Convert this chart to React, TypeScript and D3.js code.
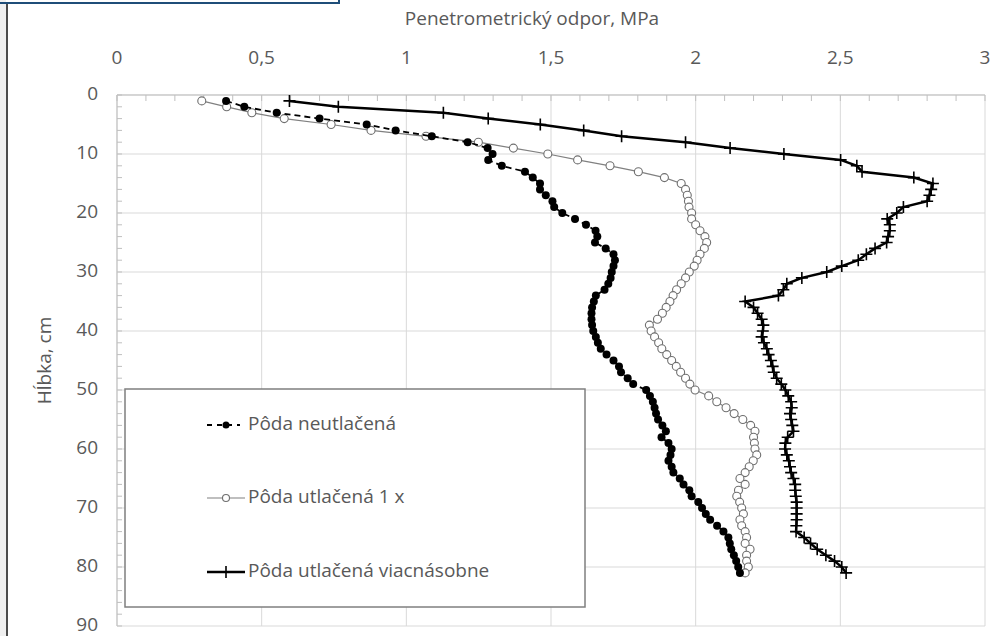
import React, { useRef, useEffect } from "react";
import * as d3 from "d3";

// depth in cm, one reading per cm
const depths = d3.range(1, 82);

// Pôda neutlačená
const neutlacena = [
  0.377, 0.44, 0.552, 0.7, 0.863, 0.963, 1.088, 1.212, 1.281, 1.298,
  1.283, 1.33, 1.41, 1.437, 1.462, 1.462, 1.482, 1.505, 1.511, 1.539,
  1.583, 1.621, 1.654, 1.66, 1.652, 1.689, 1.716, 1.721, 1.716, 1.71,
  1.706, 1.698, 1.685, 1.655, 1.648, 1.642, 1.64, 1.64, 1.642, 1.646,
  1.655, 1.662, 1.672, 1.692, 1.716, 1.735, 1.742, 1.765, 1.784, 1.829,
  1.842, 1.852, 1.858, 1.863, 1.87, 1.885, 1.897, 1.882, 1.906, 1.917,
  1.913, 1.906, 1.917, 1.923, 1.945, 1.958, 1.978, 1.986, 2.009, 2.022,
  2.035, 2.05, 2.074, 2.096, 2.113, 2.118, 2.123, 2.132, 2.14, 2.147,
  2.153,
];

// Pôda utlačená 1 x
const utlacena1x = [
  0.293, 0.379, 0.466, 0.578, 0.74, 0.878, 1.068, 1.249, 1.37, 1.489,
  1.592, 1.704, 1.802, 1.892, 1.95, 1.965, 1.971, 1.975, 1.977, 1.986,
  1.986, 2.0, 2.015, 2.032, 2.038, 2.03, 2.015, 2.005, 1.995, 1.978,
  1.965, 1.95, 1.934, 1.922, 1.911, 1.898, 1.885, 1.868, 1.84, 1.846,
  1.858, 1.872, 1.883, 1.9, 1.917, 1.933, 1.948, 1.965, 1.98, 1.998,
  2.045, 2.073, 2.105, 2.133, 2.163, 2.19, 2.205, 2.2, 2.203, 2.205,
  2.211, 2.199, 2.185, 2.171, 2.153, 2.171, 2.148, 2.142, 2.152, 2.159,
  2.165, 2.153, 2.159, 2.171, 2.176, 2.171, 2.188, 2.176, 2.176, 2.182,
  2.171,
];

// Pôda utlačená viacnásobne
const viacnasobne = [
  0.596, 0.765, 1.128, 1.283, 1.463, 1.613, 1.744, 1.965, 2.119, 2.305,
  2.501, 2.557, 2.575, 2.754, 2.82, 2.814, 2.808, 2.8, 2.718, 2.695,
  2.662, 2.671, 2.671, 2.665, 2.66, 2.62, 2.59, 2.562, 2.505, 2.453,
  2.367, 2.315, 2.303, 2.286, 2.171, 2.2, 2.214, 2.228, 2.234, 2.232,
  2.228, 2.236, 2.246, 2.252, 2.26, 2.266, 2.27, 2.28, 2.296, 2.31,
  2.32, 2.33, 2.332, 2.326, 2.33, 2.334, 2.338, 2.318, 2.31, 2.309,
  2.315, 2.322, 2.326, 2.33, 2.338, 2.344, 2.344, 2.346, 2.349, 2.349,
  2.349, 2.349, 2.348, 2.347, 2.375, 2.397, 2.42, 2.45, 2.48, 2.505,
  2.52,
];

const xTicks = [0, 0.5, 1, 1.5, 2, 2.5, 3];
const yTicks = [0, 10, 20, 30, 40, 50, 60, 70, 80, 90];
const legendLabels = [
  "Pôda neutlačená",
  "Pôda utlačená 1 x",
  "Pôda utlačená viacnásobne",
];

const font = "'Open Sans', sans-serif";
const textGray = "#595959";

const App = () => {
  const ref = useRef(null);

  useEffect(() => {
    const svg = d3.select(ref.current);
    svg.selectAll("*").remove();

    const x = d3.scaleLinear().domain([0, 3]).range([117, 985]);
    const y = d3.scaleLinear().domain([0, 90]).range([95, 626]);

    // frame bits from the surrounding page
    svg.append("rect").attr("x", 0).attr("y", 0).attr("width", 6).attr("height", 636).attr("fill", "#f0f0f0");
    svg.append("line").attr("x1", 7).attr("x2", 7).attr("y1", 3).attr("y2", 636)
      .attr("stroke", "#111").attr("stroke-width", 1.5);
    svg.append("path").attr("d", "M0,3H339V0").attr("fill", "none")
      .attr("stroke", "#1f4e79").attr("stroke-width", 2);

    // grid
    const grid = svg.append("g");
    grid.selectAll(".vg").data(xTicks).enter().append("line")
      .attr("x1", (d) => x(d)).attr("x2", (d) => x(d))
      .attr("y1", y(0)).attr("y2", y(90))
      .attr("stroke", "#d9d9d9").attr("stroke-width", 1);
    grid.selectAll(".hg").data(yTicks).enter().append("line")
      .attr("x1", x(0)).attr("x2", x(3))
      .attr("y1", (d) => y(d)).attr("y2", (d) => y(d))
      .attr("stroke", "#d9d9d9").attr("stroke-width", 1);

    // axis lines and minor ticks
    svg.append("line").attr("x1", x(0)).attr("x2", x(3)).attr("y1", y(0)).attr("y2", y(0))
      .attr("stroke", "#bfbfbf");
    svg.append("line").attr("x1", x(0)).attr("x2", x(0)).attr("y1", y(0)).attr("y2", y(90))
      .attr("stroke", "#bfbfbf");
    svg.append("g").selectAll("line").data(d3.range(0, 31)).enter().append("line")
      .attr("x1", (d) => x(d / 10)).attr("x2", (d) => x(d / 10))
      .attr("y1", y(0)).attr("y2", y(0) + 6)
      .attr("stroke", "#bfbfbf");
    svg.append("g").selectAll("line").data(d3.range(0, 46)).enter().append("line")
      .attr("x1", x(0)).attr("x2", x(0) + 5)
      .attr("y1", (d) => y(d * 2)).attr("y2", (d) => y(d * 2))
      .attr("stroke", "#bfbfbf");

    // tick labels
    const fmt = (d) => String(d).replace(".", ",");
    svg.append("g").selectAll("text").data(xTicks).enter().append("text")
      .attr("x", (d) => x(d)).attr("y", 59)
      .attr("text-anchor", "middle").attr("dominant-baseline", "middle")
      .attr("font-family", font).attr("font-size", 19).attr("fill", textGray)
      .text(fmt);
    svg.append("g").selectAll("text").data(yTicks).enter().append("text")
      .attr("x", 98).attr("y", (d) => y(d))
      .attr("text-anchor", "end").attr("dominant-baseline", "middle")
      .attr("font-family", font).attr("font-size", 19).attr("fill", textGray)
      .text((d) => d);

    // axis titles
    svg.append("text").attr("x", 532).attr("y", 20)
      .attr("text-anchor", "middle").attr("dominant-baseline", "middle")
      .attr("font-family", font).attr("font-size", 19).attr("fill", textGray)
      .text("Penetrometrický odpor, MPa");
    svg.append("text")
      .attr("transform", `translate(46, ${(y(0) + y(90)) / 2}) rotate(-90)`)
      .attr("text-anchor", "middle").attr("dominant-baseline", "middle")
      .attr("font-family", font).attr("font-size", 19).attr("fill", textGray)
      .text("Hĺbka, cm");

    const line = d3.line().x((d) => x(d[0])).y((d) => y(d[1]));
    const pts = (vals) => vals.map((v, i) => [v, depths[i]]);

    const plusPath = (s) => `M${-s},0H${s}M0,${-s}V${s}`;

    // series 3: thick line, plus markers
    svg.append("path").datum(pts(viacnasobne)).attr("d", line)
      .attr("fill", "none").attr("stroke", "#000").attr("stroke-width", 2.5);
    svg.append("g").selectAll("path").data(pts(viacnasobne)).enter().append("path")
      .attr("transform", (d) => `translate(${x(d[0])},${y(d[1])})`)
      .attr("d", plusPath(6)).attr("stroke", "#000").attr("stroke-width", 1.6);

    // series 2: thin gray line, open circles
    svg.append("path").datum(pts(utlacena1x)).attr("d", line)
      .attr("fill", "none").attr("stroke", "#808080").attr("stroke-width", 1.2);
    svg.append("g").selectAll("circle").data(pts(utlacena1x)).enter().append("circle")
      .attr("cx", (d) => x(d[0])).attr("cy", (d) => y(d[1])).attr("r", 4)
      .attr("fill", "#fff").attr("stroke", "#6f6f6f").attr("stroke-width", 1.1);

    // series 1: dashed line, filled circles
    svg.append("path").datum(pts(neutlacena)).attr("d", line)
      .attr("fill", "none").attr("stroke", "#000").attr("stroke-width", 1.8)
      .attr("stroke-dasharray", "6,4");
    svg.append("g").selectAll("circle").data(pts(neutlacena)).enter().append("circle")
      .attr("cx", (d) => x(d[0])).attr("cy", (d) => y(d[1])).attr("r", 4)
      .attr("fill", "#000");

    // legend
    const lg = svg.append("g");
    lg.append("rect").attr("x", 125).attr("y", 389).attr("width", 460).attr("height", 218)
      .attr("fill", "#fff").attr("stroke", "#7f7f7f").attr("stroke-width", 1.5);
    const rows = [425, 498, 572];
    // row 1
    lg.append("line").attr("x1", 207).attr("x2", 240).attr("y1", rows[0]).attr("y2", rows[0])
      .attr("stroke", "#000").attr("stroke-width", 1.8).attr("stroke-dasharray", "5,5");
    lg.append("circle").attr("cx", 226).attr("cy", rows[0]).attr("r", 3.5).attr("fill", "#000");
    // row 2
    lg.append("line").attr("x1", 207).attr("x2", 245).attr("y1", rows[1]).attr("y2", rows[1])
      .attr("stroke", "#808080").attr("stroke-width", 1.2);
    lg.append("circle").attr("cx", 226).attr("cy", rows[1]).attr("r", 3.5)
      .attr("fill", "#fff").attr("stroke", "#6f6f6f").attr("stroke-width", 1.1);
    // row 3
    lg.append("line").attr("x1", 207).attr("x2", 245).attr("y1", rows[2]).attr("y2", rows[2])
      .attr("stroke", "#000").attr("stroke-width", 2.5);
    lg.append("path").attr("transform", `translate(226,${rows[2]})`)
      .attr("d", plusPath(6)).attr("stroke", "#000").attr("stroke-width", 1.6);
    lg.selectAll("text").data(legendLabels).enter().append("text")
      .attr("x", 248).attr("y", (d, i) => rows[i])
      .attr("dominant-baseline", "middle")
      .attr("font-family", font).attr("font-size", 19).attr("fill", textGray)
      .text((d) => d);
  });

  return (
    <div>
      <svg
        ref={ref}
        width={990}
        height={636}
        style={{ position: "absolute", left: 0, top: 0, background: "#fff" }}
      ></svg>
    </div>
  );
};

export default App;
